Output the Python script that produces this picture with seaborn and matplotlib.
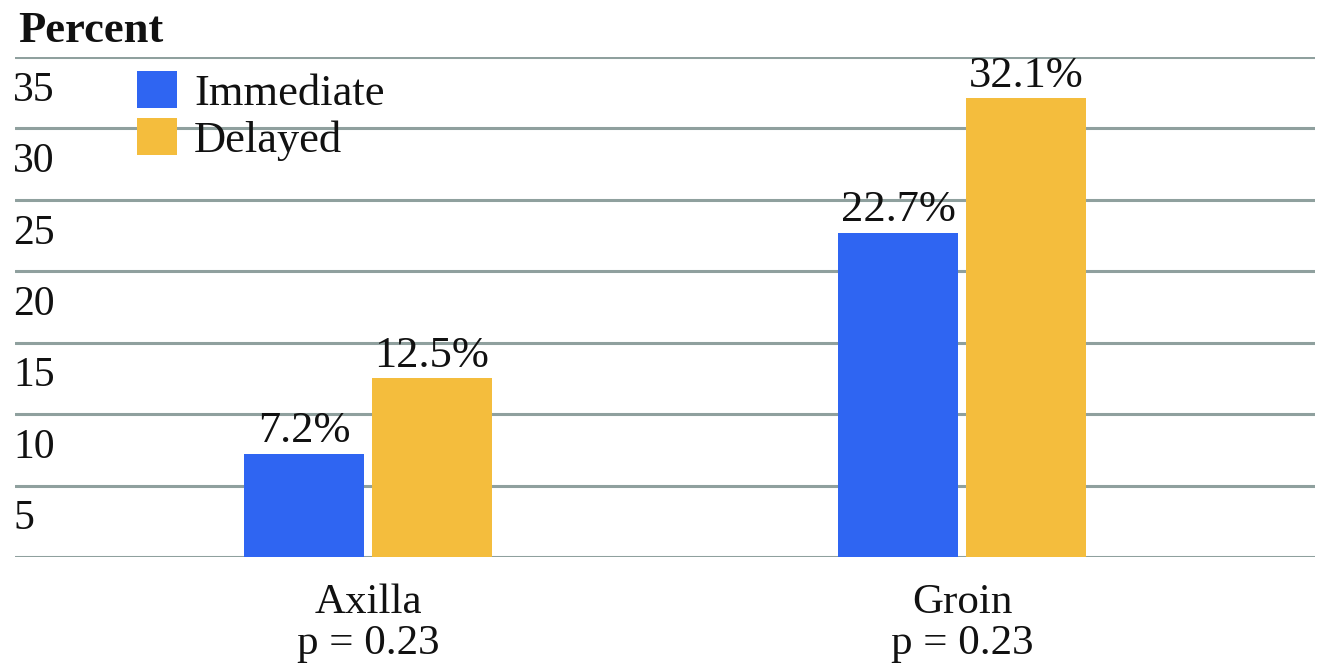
import matplotlib
matplotlib.use("Agg")
import matplotlib.pyplot as plt
import matplotlib.transforms as mtransforms
import seaborn as sns
import pandas as pd

regions = ["Axilla", "Groin"]
region_labels = ["Axilla\np = 0.23", "Groin\np = 0.23"]
groups = ["Immediate", "Delayed"]
immediate = [7.2, 22.7]
delayed = [12.5, 32.1]
yticks = [0, 5, 10, 15, 20, 25, 30, 35]
ytick_labels = ["", "5", "10", "15", "20", "25", "30", "35"]
colors = ["#2f65f2", "#f4bd3d"]

df = pd.DataFrame({
    "region": regions * 2,
    "group": [groups[0]] * 2 + [groups[1]] * 2,
    "value": immediate + delayed,
})

sns.set_theme(style="white")
plt.rcParams["font.family"] = ["Liberation Serif", "DejaVu Serif"]

fig = plt.figure(figsize=(13.24, 6.71), dpi=100)
ax = fig.add_axes([15 / 1324, 1 - 557 / 671, 1300 / 1324, 500 / 671])

sns.barplot(data=df, x="region", y="value", hue="group", hue_order=groups,
            palette=colors, width=0.43, gap=0.06, saturation=1, ax=ax,
            linewidth=0, legend=True)

for c in ax.containers:
    ax.bar_label(c, fmt="%.1f%%", padding=2, fontsize=32, color="#111111")

ax.set_xlim(-0.594, 1.594)
ax.set_ylim(0, 35)
ax.set_yticks(yticks)
ax.set_yticklabels(ytick_labels)
ax.set_xticks(range(len(regions)))
ax.set_xticklabels(region_labels, fontsize=31, linespacing=1.08, color="#111111")
ax.set_xlabel("")
ax.set_ylabel("")
ax.tick_params(axis="both", length=0)
ax.tick_params(axis="x", pad=19)
ax.tick_params(axis="y", pad=0, labelsize=30)
for sp in ax.spines.values():
    sp.set_visible(False)
ax.set_axisbelow(True)
ax.yaxis.grid(True, color="#8fa09e", linewidth=2.2)

off = mtransforms.ScaledTranslation(-2 / 100, -29 / 100, fig.dpi_scale_trans)
for lbl in ax.get_yticklabels():
    lbl.set_horizontalalignment("left")
    lbl.set_transform(lbl.get_transform() + off)
    lbl.set_color("#111111")

fig.text(18 / 1324, 1 - 42 / 671, "Percent", fontsize=32, fontweight="bold",
         ha="left", va="baseline", color="#111111")

leg = ax.legend(loc="upper left", bbox_to_anchor=(0.087, 0.99), frameon=False,
                fontsize=32, handlelength=0.9, handleheight=0.9,
                handletextpad=0.38, labelspacing=0.1, borderpad=0.2,
                borderaxespad=0)
for t in leg.get_texts():
    t.set_color("#111111")

fig.savefig("out.png", dpi=100)
